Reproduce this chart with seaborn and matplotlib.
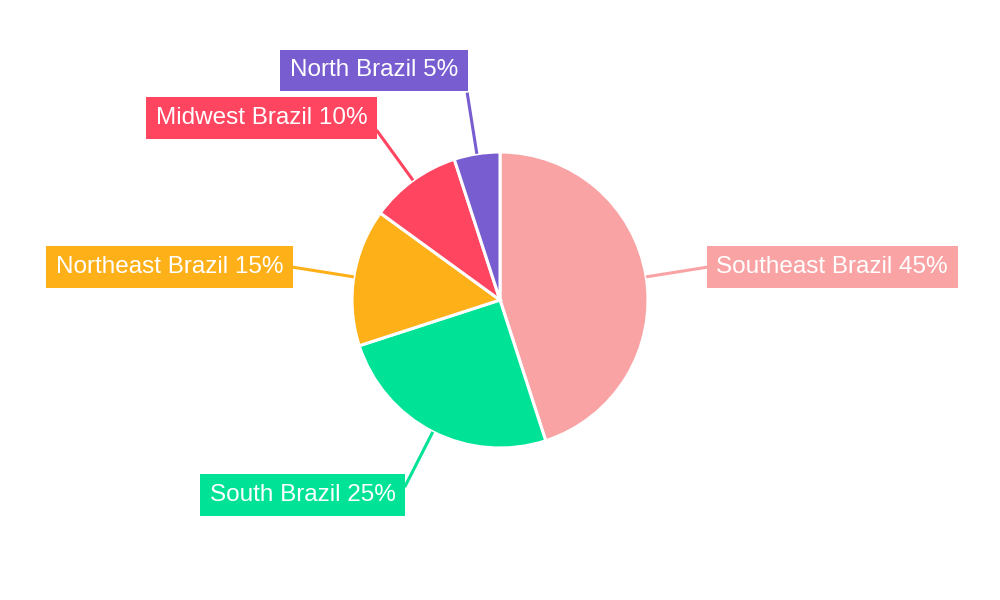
import numpy as np
import matplotlib
matplotlib.use("Agg")
import matplotlib.pyplot as plt
import seaborn as sns

# --- Data ---
regions = ["Southeast Brazil", "South Brazil", "Northeast Brazil", "Midwest Brazil", "North Brazil"]
shares = [45, 25, 15, 10, 5]
colors = ["#F9A3A4", "#00E396", "#FEB019", "#FF4560", "#775DD0"]

sns.set_theme(style="white")
plt.rcParams["font.family"] = ["Liberation Sans", "DejaVu Sans"]

fig = plt.figure(figsize=(10, 6), dpi=100)
ax = fig.add_axes([0, 0, 1, 1])

cx, cy, radius = 500, 300, 148
wedges, _ = ax.pie(
    shares, colors=sns.color_palette(colors), startangle=90, counterclock=False,
    center=(cx, cy), radius=radius, frame=True,
    wedgeprops=dict(edgecolor="white", linewidth=2.2),
)
ax.set_xlim(0, 1000)
ax.set_ylim(0, 600)
ax.set_aspect("equal")
ax.axis("off")

# --- Leader lines and boxed labels ---
for w, name, val, col in zip(wedges, regions, shares, colors):
    ang = np.deg2rad((w.theta1 + w.theta2) / 2)
    c, s = np.cos(ang), np.sin(ang)
    x0, y0 = cx + radius * c, cy + radius * s
    x1, y1 = cx + 210 * c, cy + 210 * s
    ax.plot([x0, x1], [y0, y1], color=col, lw=2.2, solid_capstyle="butt", zorder=1)
    ha = "left" if c > 0 else "right"
    tx = x1 + (9 if c > 0 else -9)
    ty = y1 + (23 * s ** 3 if s > 0 else 11 * s ** 3)
    ax.text(tx, ty, f"{name} {val}%", ha=ha, va="center", fontsize=17.5, color="white",
            bbox=dict(boxstyle="square,pad=0.4", facecolor=col, edgecolor="none"), zorder=3)

fig.savefig("out.png", dpi=100, facecolor="white")
